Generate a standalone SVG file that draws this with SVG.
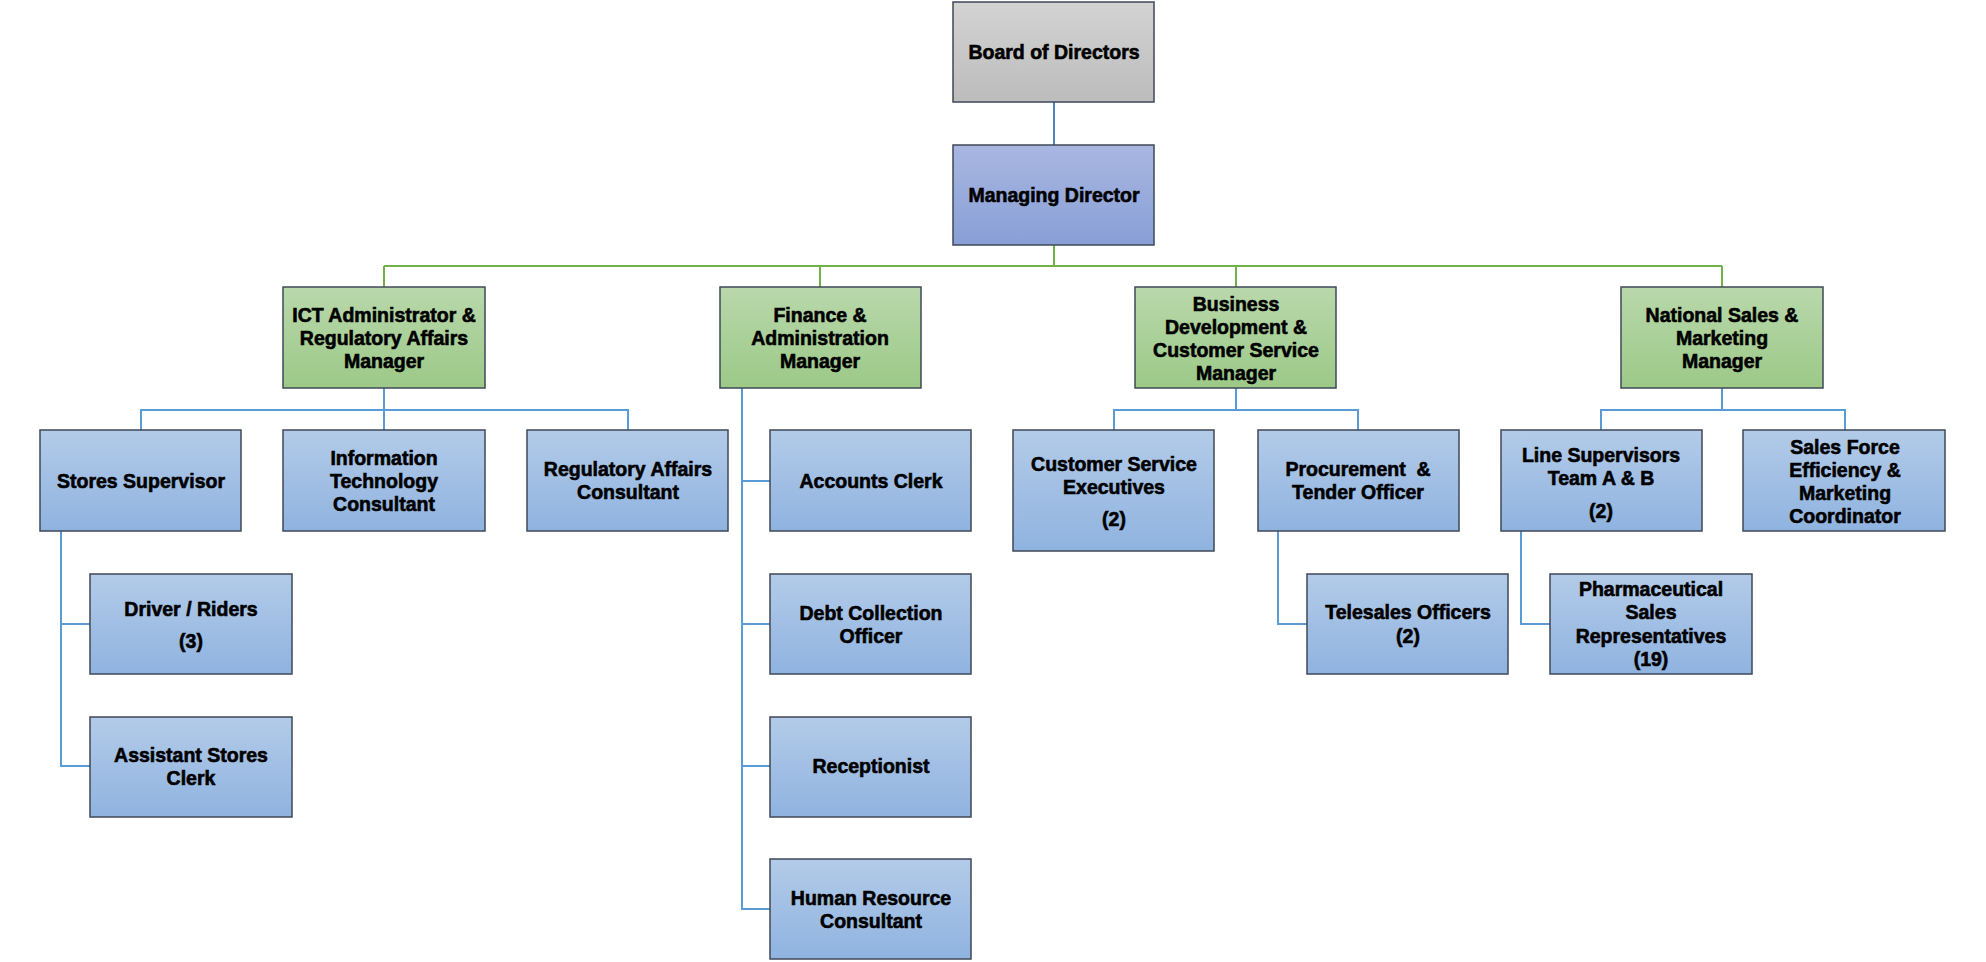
<svg xmlns="http://www.w3.org/2000/svg" width="1986" height="962" viewBox="0 0 1986 962">
<defs>
<linearGradient id="gGray" x1="0" y1="0" x2="0" y2="1"><stop offset="0" stop-color="#d3d3d3"/><stop offset="1" stop-color="#bcbcbc"/></linearGradient>
<linearGradient id="gPurple" x1="0" y1="0" x2="0" y2="1"><stop offset="0" stop-color="#a9b7e1"/><stop offset="1" stop-color="#889fd6"/></linearGradient>
<linearGradient id="gGreen" x1="0" y1="0" x2="0" y2="1"><stop offset="0" stop-color="#b9d8ab"/><stop offset="1" stop-color="#9cc988"/></linearGradient>
<linearGradient id="gBlue" x1="0" y1="0" x2="0" y2="1"><stop offset="0" stop-color="#b3cbe8"/><stop offset="1" stop-color="#8fb3e0"/></linearGradient>
</defs>
<style>
rect{stroke:#3f4858;stroke-width:1.5}
.gray{fill:url(#gGray)} .purple{fill:url(#gPurple)} .green{fill:url(#gGreen)} .blue{fill:url(#gBlue)}
text{font-family:"Liberation Sans",Arial,sans-serif;font-weight:bold;font-size:19.5px;fill:#000;stroke:#000;stroke-width:0.6;text-anchor:middle;white-space:pre}
.c line,.c polyline{fill:none;stroke-width:2}
.cb{stroke:#5b9bd5}
.cg{stroke:#72b04a}
.cd{stroke:#4f81bd}
</style>
<rect width="1986" height="962" fill="#fff" style="stroke:none"/>
<g id="connectors" class="c">
<line class="cd" x1="1054" y1="102" x2="1054" y2="145"/>
<line class="cg" x1="1054" y1="245" x2="1054" y2="266"/>
<line class="cg" x1="384" y1="266" x2="1722" y2="266"/>
<line class="cg" x1="384" y1="266" x2="384" y2="287"/>
<line class="cg" x1="820" y1="266" x2="820" y2="287"/>
<line class="cg" x1="1236" y1="266" x2="1236" y2="287"/>
<line class="cg" x1="1722" y1="266" x2="1722" y2="287"/>
<line class="cb" x1="384" y1="388" x2="384" y2="430"/>
<polyline class="cb" points="141,430 141,410 628,410 628,430"/>
<polyline class="cb" points="61,531 61,766 90,766"/>
<line class="cb" x1="61" y1="624" x2="90" y2="624"/>
<polyline class="cb" points="742,388 742,909 770,909"/>
<line class="cb" x1="742" y1="481" x2="770" y2="481"/>
<line class="cb" x1="742" y1="624" x2="770" y2="624"/>
<line class="cb" x1="742" y1="766" x2="770" y2="766"/>
<line class="cb" x1="1236" y1="388" x2="1236" y2="410"/>
<polyline class="cb" points="1114,430 1114,410 1358,410 1358,430"/>
<polyline class="cb" points="1278,531 1278,624 1307,624"/>
<line class="cb" x1="1722" y1="388" x2="1722" y2="410"/>
<polyline class="cb" points="1601,430 1601,410 1845,410 1845,430"/>
<polyline class="cb" points="1521,531 1521,624 1550,624"/>
</g>
<g id="board"><rect class="gray" x="953" y="2" width="201" height="100"/><text x="1054" y="59">Board of Directors</text></g>
<g id="md"><rect class="purple" x="953" y="145" width="201" height="100"/><text x="1054" y="202">Managing Director</text></g>
<g id="ict"><rect class="green" x="283" y="287" width="202" height="101"/><text x="384" y="322">ICT Administrator &amp;</text><text x="384" y="345">Regulatory Affairs</text><text x="384" y="368">Manager</text></g>
<g id="finance"><rect class="green" x="720" y="287" width="201" height="101"/><text x="820" y="322">Finance &amp;</text><text x="820" y="345">Administration</text><text x="820" y="368">Manager</text></g>
<g id="business"><rect class="green" x="1135" y="287" width="201" height="101"/><text x="1236" y="311">Business</text><text x="1236" y="334">Development &amp;</text><text x="1236" y="357">Customer Service</text><text x="1236" y="380">Manager</text></g>
<g id="national"><rect class="green" x="1621" y="287" width="202" height="101"/><text x="1722" y="322">National Sales &amp;</text><text x="1722" y="345">Marketing</text><text x="1722" y="368">Manager</text></g>
<g id="stores"><rect class="blue" x="40" y="430" width="201" height="101"/><text x="141" y="488">Stores Supervisor</text></g>
<g id="infotech"><rect class="blue" x="283" y="430" width="202" height="101"/><text x="384" y="465">Information</text><text x="384" y="488">Technology</text><text x="384" y="511">Consultant</text></g>
<g id="regaff"><rect class="blue" x="527" y="430" width="201" height="101"/><text x="628" y="476">Regulatory Affairs</text><text x="628" y="499">Consultant</text></g>
<g id="accounts"><rect class="blue" x="770" y="430" width="201" height="101"/><text x="871" y="488">Accounts Clerk</text></g>
<g id="cse"><rect class="blue" x="1013" y="430" width="201" height="121"/><text x="1114" y="471">Customer Service</text><text x="1114" y="494">Executives</text><text x="1114" y="526">(2)</text></g>
<g id="procurement"><rect class="blue" x="1258" y="430" width="201" height="101"/><text x="1358" y="476">Procurement  &amp;</text><text x="1358" y="499">Tender Officer</text></g>
<g id="linesup"><rect class="blue" x="1501" y="430" width="201" height="101"/><text x="1601" y="462">Line Supervisors</text><text x="1601" y="485">Team A &amp; B</text><text x="1601" y="518">(2)</text></g>
<g id="salesforce"><rect class="blue" x="1743" y="430" width="202" height="101"/><text x="1845" y="454">Sales Force</text><text x="1845" y="477">Efficiency &amp;</text><text x="1845" y="500">Marketing</text><text x="1845" y="523">Coordinator</text></g>
<g id="driver"><rect class="blue" x="90" y="574" width="202" height="100"/><text x="191" y="616">Driver / Riders</text><text x="191" y="648">(3)</text></g>
<g id="asc"><rect class="blue" x="90" y="717" width="202" height="100"/><text x="191" y="762">Assistant Stores</text><text x="191" y="785">Clerk</text></g>
<g id="debt"><rect class="blue" x="770" y="574" width="201" height="100"/><text x="871" y="620">Debt Collection</text><text x="871" y="643">Officer</text></g>
<g id="reception"><rect class="blue" x="770" y="717" width="201" height="100"/><text x="871" y="773">Receptionist</text></g>
<g id="hr"><rect class="blue" x="770" y="859" width="201" height="100"/><text x="871" y="905">Human Resource</text><text x="871" y="928">Consultant</text></g>
<g id="telesales"><rect class="blue" x="1307" y="574" width="201" height="100"/><text x="1408" y="619">Telesales Officers</text><text x="1408" y="643">(2)</text></g>
<g id="pharma"><rect class="blue" x="1550" y="574" width="202" height="100"/><text x="1651" y="596">Pharmaceutical</text><text x="1651" y="619">Sales</text><text x="1651" y="643">Representatives</text><text x="1651" y="666">(19)</text></g>
</svg>
